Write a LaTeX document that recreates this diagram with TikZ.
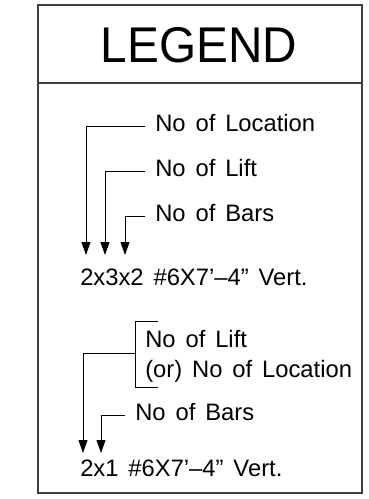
\documentclass[tikz,border=0pt]{standalone}
\usepackage{fontspec}
\setmainfont[WordSpace=1.5]{Liberation Sans}
\usetikzlibrary{arrows.meta, positioning, calc}
\tikzset{lbl/.style = {anchor=west, inner xsep=0.25cm, inner ysep=0pt, text height=0.716em, text depth=0pt, font=\fontsize{16.9}{21}\selectfont},
         code/.style = {anchor=base west, inner sep=0pt, font=\fontsize{16.9}{21}\selectfont},
         lead/.style = {line width=0.7pt},
         tip/.style = {lead, -{Triangle[length=3.2mm,width=2.2mm]}}}

\begin{document}
\begin{tikzpicture}[x=0.025cm, y=-0.025cm]
    \useasboundingbox (0,0) rectangle (368,499);
    \draw [black!75, line width=0.8pt] (38,5) rectangle (362,493);
    \draw [black!75, line width=0.8pt] (38,83) -- (362,83);
    \node [font=\fontsize{35.7}{40}\selectfont, inner sep=0pt, anchor=base, xscale=0.95] (title) at (199,63) {LEGEND};

    \node [lbl] (loc) at (145,126) {No of Location};
    \node [lbl] (lift) at (145,171) {No of Lift};
    \node [lbl] (bars) at (145,216) {No of Bars};
    \node [code] (mark) at (80,285) {2x3x2 \#6X7’–4” Vert.};

    \coordinate (a1) at (86,255);
    \coordinate (a2) at (105,255);
    \coordinate (a3) at (125,255);

    \draw [tip] (loc.west) -| (a1);
    \draw [tip] (lift.west) -| (a2);
    \draw [tip] (bars.west) -| (a3);

    \node [code] (lift2) at (145,347) {No of Lift};
    \node [code] (or2) at (145,377) {(or) No of Location};
    \node [lbl] (bars2) at (125,415.5) {No of Bars};
    \node [code] (mark2) at (80,476) {2x1 \#6X7’–4” Vert.};

    \coordinate (bt) at (158,321);
    \coordinate (bb) at (158,387);
    \coordinate (bm) at (135,353);
    \coordinate (a4) at (83,453);
    \coordinate (a5) at (101,453);

    \draw [lead] (bt) -- ++(-23,0) -- ++(0,66) -- (bb);
    \draw [tip] (bm) -| (a4);
    \draw [tip] (bars2.west) -| (a5);
\end{tikzpicture}
\end{document}
